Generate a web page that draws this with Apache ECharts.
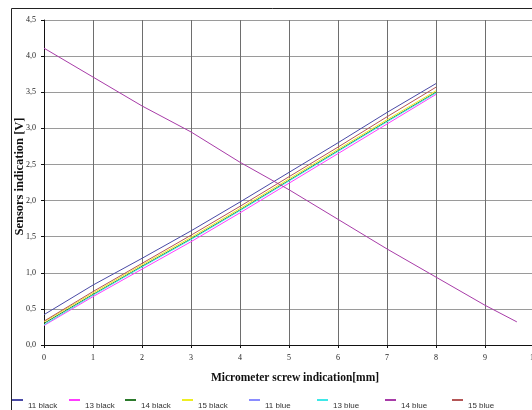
<!DOCTYPE html>
<html>
<head>
<meta charset="utf-8">
<script src="https://cdn.jsdelivr.net/npm/echarts@6/dist/echarts.min.js"></script>
<style>
  html, body { margin: 0; padding: 0; background: #fff; }
  #chart { width: 532px; height: 410px; }
</style>
</head>
<body>
<div id="chart"></div>
<script>
// Micrometer screw position [mm]
const xRising = [0, 1, 2, 3, 4, 5, 6, 7, 8];
const xFalling = [0, 1, 2, 3, 4, 5, 6, 7, 8, 9, 9.65];

// Sensor output [V]
const s11black = [0.42, 0.83, 1.20, 1.58, 1.98, 2.39, 2.80, 3.22, 3.62];
const s13black = [0.27, 0.67, 1.05, 1.43, 1.83, 2.24, 2.65, 3.06, 3.47];
const s14black = [0.30, 0.70, 1.09, 1.47, 1.87, 2.28, 2.69, 3.10, 3.50];
const s15black = [0.32, 0.72, 1.11, 1.49, 1.89, 2.30, 2.71, 3.12, 3.52];
const s11blue  = [];
const s13blue  = [0.28, 0.69, 1.08, 1.46, 1.86, 2.27, 2.68, 3.09, 3.49];
const s14blue  = [4.11, 3.71, 3.31, 2.95, 2.53, 2.15, 1.74, 1.33, 0.94, 0.55, 0.32];
const s15blue  = [0.33, 0.74, 1.13, 1.52, 1.92, 2.33, 2.74, 3.16, 3.57];

const seriesNames = ['11 black', '13 black', '14 black', '15 black', '11 blue', '13 blue', '14 blue', '15 blue'];
const seriesX = [xRising, xRising, xRising, xRising, xRising, xRising, xFalling, xRising];
const seriesY = [s11black, s13black, s14black, s15black, s11blue, s13blue, s14blue, s15blue];
const seriesColors = ['#4a4aa6', '#ff3cff', '#2c7a2c', '#eeee22', '#8a8cff', '#3ee8e8', '#a83ca8', '#b45656'];

// Legend item left edges
const legendLeft = [12, 69, 125, 182, 249, 317, 385, 452];

const pairs = (xs, ys) => ys.map((v, i) => [xs[i], v]);
const comma = v => String(v).replace('.', ',');

const chart = echarts.init(document.getElementById('chart'), null, { renderer: 'canvas' });

chart.setOption({
  animation: false,
  backgroundColor: '#fff',
  grid: { left: 44, top: 20, right: -2, bottom: 65, containLabel: false, outerBoundsMode: 'none' },
  graphic: [{
    type: 'polyline',
    shape: { points: [[11.5, 420], [11.5, 8.5], [540, 8.5]] },
    style: { stroke: '#222', lineWidth: 1, fill: null },
    silent: true
  }],
  legend: seriesNames.map((name, i) => ({
    data: [name],
    left: legendLeft[i],
    top: 399,
    orient: 'horizontal',
    itemWidth: 11,
    itemHeight: 2,
    itemGap: 2,
    icon: 'rect',
    padding: 0,
    selectedMode: false,
    formatter: n => '{t|' + n + '}',
    textStyle: {
      fontFamily: 'Liberation Sans, Arial, sans-serif',
      fontSize: 8,
      color: '#333',
      rich: {
        t: {
          fontFamily: 'Liberation Sans, Arial, sans-serif',
          fontSize: 8,
          color: '#333',
          padding: [11, 0, 0, 0]
        }
      }
    }
  })),
  xAxis: {
    type: 'value',
    min: 0, max: 10, interval: 1,
    name: 'Micrometer screw indication[mm]',
    nameLocation: 'middle',
    nameGap: 27,
    nameMoveOverlap: false,
    nameTextStyle: {
      fontFamily: 'Liberation Serif, Times New Roman, serif', fontWeight: 'bold', fontSize: 11.5, color: '#111',
      padding: [0, 0, 0, 12]
    },
    axisLine: { show: true, onZero: false, lineStyle: { color: '#111', width: 1 } },
    axisTick: { show: true, length: 3, lineStyle: { color: '#111' } },
    axisLabel: { margin: 9, fontFamily: 'Liberation Serif, Times New Roman, serif', fontSize: 8, color: '#222' },
    splitLine: { show: true, lineStyle: { color: '#6e6e6e', width: 1 } }
  },
  yAxis: {
    type: 'value',
    min: 0, max: 4.5, interval: 0.5,
    name: 'Sensors indication [V]',
    nameLocation: 'middle',
    nameGap: 18,
    nameMoveOverlap: false,
    nameTextStyle: {
      fontFamily: 'Liberation Serif, Times New Roman, serif', fontWeight: 'bold', fontSize: 12.5, color: '#111',
      padding: [0, 0, 0, 12]
    },
    axisLine: { show: true, onZero: false, lineStyle: { color: '#111', width: 1 } },
    axisTick: { show: true, length: 3, lineStyle: { color: '#111' } },
    axisLabel: {
      margin: 8,
      fontFamily: 'Liberation Serif, Times New Roman, serif', fontSize: 8, color: '#222',
      formatter: v => comma(v.toFixed(1))
    },
    splitLine: { show: true, lineStyle: { color: '#9a9a9a', width: 1 } }
  },
  series: seriesNames.map((name, i) => ({
    name,
    type: 'line',
    data: pairs(seriesX[i], seriesY[i]),
    showSymbol: false,
    symbol: 'none',
    lineStyle: { color: seriesColors[i], width: 1 },
    itemStyle: { color: seriesColors[i] },
    z: 3
  }))
});
</script>
</body>
</html>
